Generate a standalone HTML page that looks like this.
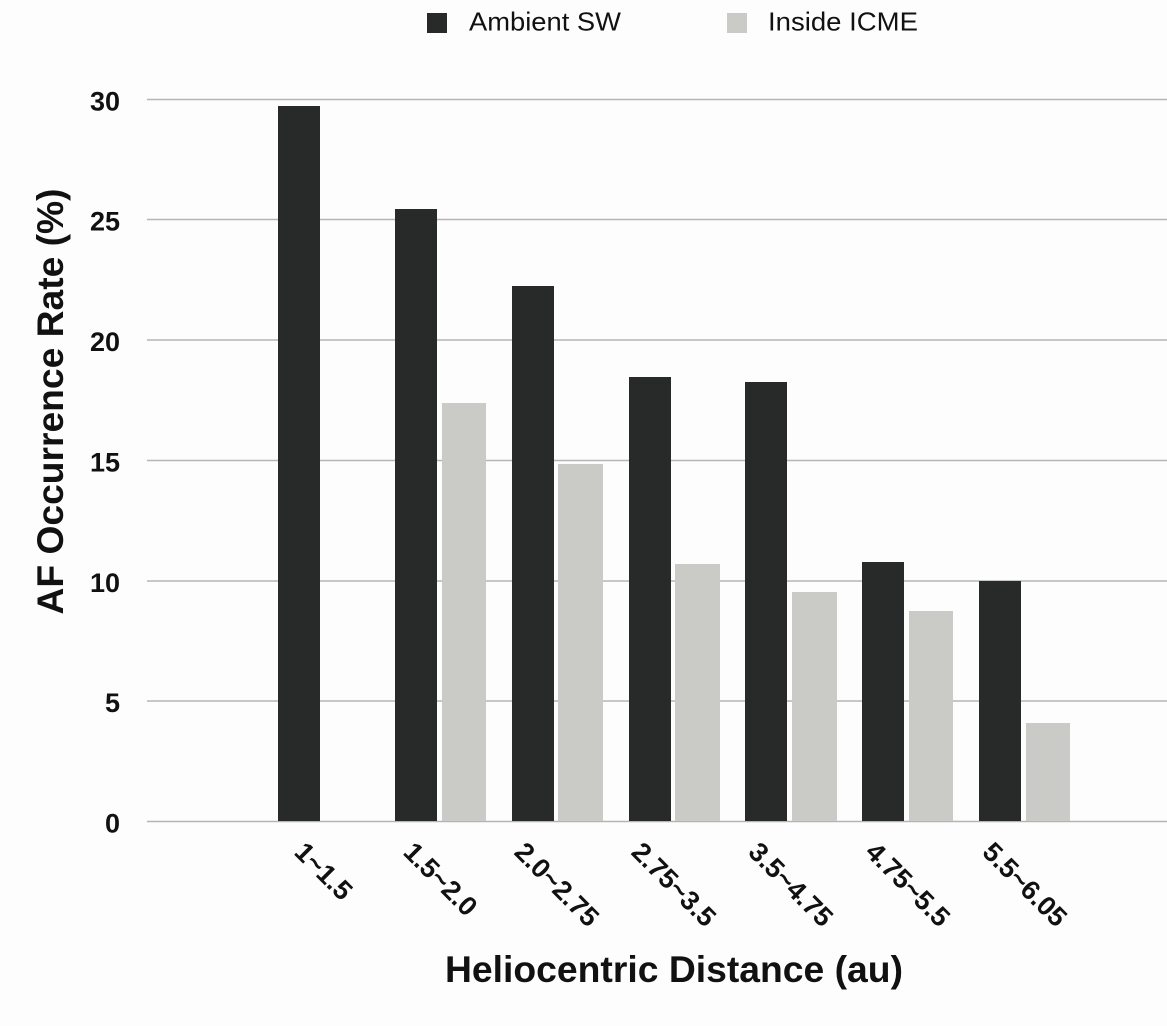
<!DOCTYPE html>
<html>
<head>
<meta charset="utf-8">
<style>
html,body{margin:0;padding:0;background:#fdfdfd;}
svg{display:block;}
text{font-family:"Liberation Sans",Arial,Helvetica,sans-serif;fill:#111;}
</style>
</head>
<body>
<svg width="1167" height="1026" viewBox="0 0 1167 1026" xmlns="http://www.w3.org/2000/svg">
<rect x="0" y="0" width="1167" height="1026" fill="#fdfdfd"/>

<!-- Legend -->
<rect x="427" y="13" width="20" height="20" fill="#282a29"/>
<text x="469" y="30.5" font-size="26" textLength="152" lengthAdjust="spacingAndGlyphs">Ambient SW</text>
<rect x="727" y="13" width="20" height="20" fill="#cacac6"/>
<text x="768" y="30.5" font-size="26" textLength="150" lengthAdjust="spacingAndGlyphs">Inside ICME</text>

<!-- Gridlines -->
<g stroke="#b5b5b5" stroke-width="1.5">
<line x1="147" y1="99.5" x2="1167" y2="99.5"/>
<line x1="147" y1="219.5" x2="1167" y2="219.5"/>
<line x1="147" y1="340" x2="1167" y2="340"/>
<line x1="147" y1="460.5" x2="1167" y2="460.5"/>
<line x1="147" y1="581" x2="1167" y2="581"/>
<line x1="147" y1="701" x2="1167" y2="701"/>
<line x1="147" y1="821.5" x2="1167" y2="821.5"/>
</g>

<!-- Y tick labels -->
<g font-size="27" font-weight="bold" text-anchor="end">
<text x="120" y="110.5">30</text>
<text x="120" y="230.5">25</text>
<text x="120" y="351">20</text>
<text x="120" y="471.5">15</text>
<text x="120" y="592">10</text>
<text x="120" y="712">5</text>
<text x="120" y="832.5">0</text>
</g>

<!-- Bars: Ambient SW -->
<g fill="#282a29">
<rect x="278" y="106" width="42" height="715"/>
<rect x="395" y="209" width="42" height="612"/>
<rect x="512" y="286" width="42" height="535"/>
<rect x="629" y="377" width="42" height="444"/>
<rect x="745" y="382" width="42" height="439"/>
<rect x="862" y="562" width="42" height="259"/>
<rect x="979" y="581" width="42" height="240"/>
</g>
<!-- Bars: Inside ICME -->
<g fill="#cacac6">
<rect x="442" y="403" width="44" height="418"/>
<rect x="558" y="464" width="45" height="357"/>
<rect x="675" y="564" width="45" height="257"/>
<rect x="792" y="592" width="45" height="229"/>
<rect x="909" y="611" width="44" height="210"/>
<rect x="1026" y="723" width="44" height="98"/>
</g>

<!-- X tick labels -->
<g font-size="27" font-weight="bold">
<text x="293" y="853.5" transform="rotate(45 293 853.5)">1~1.5</text>
<text x="402" y="853.5" transform="rotate(45 402 853.5)">1.5~2.0</text>
<text x="513" y="853.5" transform="rotate(45 513 853.5)">2.0~2.75</text>
<text x="630" y="853.5" transform="rotate(45 630 853.5)">2.75~3.5</text>
<text x="747" y="853.5" transform="rotate(45 747 853.5)">3.5~4.75</text>
<text x="864" y="853.5" transform="rotate(45 864 853.5)">4.75~5.5</text>
<text x="981" y="853.5" transform="rotate(45 981 853.5)">5.5~6.05</text>
</g>

<!-- Axis titles -->
<text x="674" y="982" font-size="37" font-weight="bold" text-anchor="middle" textLength="458" lengthAdjust="spacingAndGlyphs">Heliocentric Distance (au)</text>
<text transform="translate(63,401.5) rotate(-90)" x="0" y="0" font-size="37" font-weight="bold" text-anchor="middle" textLength="426" lengthAdjust="spacingAndGlyphs">AF Occurrence Rate (%)</text>
</svg>
</body>
</html>
